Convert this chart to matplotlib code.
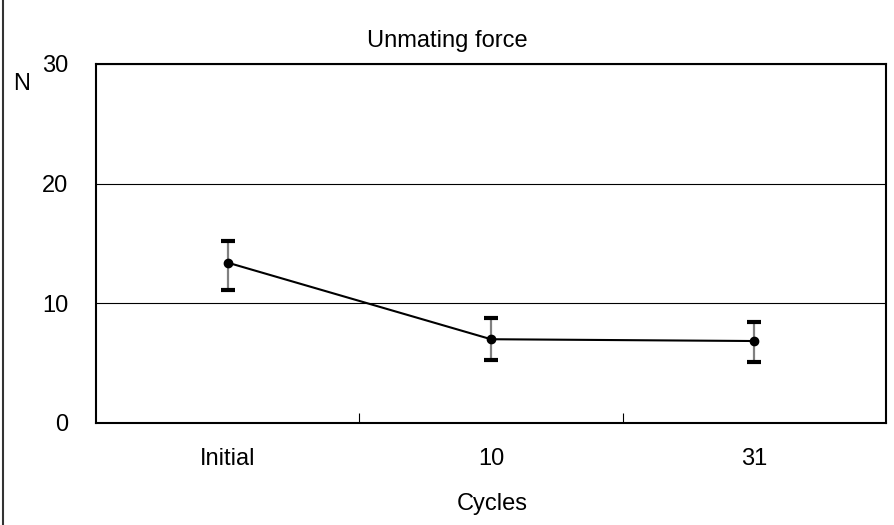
import matplotlib
matplotlib.use('Agg')
import matplotlib.pyplot as plt
from matplotlib.lines import Line2D

plt.rcParams['font.family'] = ['Liberation Sans', 'DejaVu Sans']

cycles = ['Initial', '10', '31']
force = [13.4, 7.0, 6.85]
err_low = [2.3, 1.75, 1.75]
err_high = [1.8, 1.8, 1.55]

FS = 17

fig = plt.figure(figsize=(8.94, 5.25), dpi=100)
ax = fig.add_axes([0.1074, 0.1943, 0.8837, 0.6838])

x = list(range(len(cycles)))
ax.errorbar(x, force, yerr=[err_low, err_high], fmt='none', ecolor='#808080',
            elinewidth=1.6, capsize=0, zorder=2)
# caps drawn separately so they stay black and thick
lo = [f - e for f, e in zip(force, err_low)]
hi = [f + e for f, e in zip(force, err_high)]
ax.scatter(x, lo, marker='_', s=110, color='black', linewidths=3, zorder=3)
ax.scatter(x, hi, marker='_', s=110, color='black', linewidths=3, zorder=3)
ax.plot(x, force, color='black', lw=1.5, marker='o', ms=6, zorder=4)

ax.set_xlim(-0.5, 2.5)
ax.set_ylim(0, 30)
ax.set_yticks([0, 10, 20, 30])
ax.set_xticks(x)
ax.set_xticklabels(cycles)
ax.set_xticks([0.5, 1.5], minor=True)
ax.tick_params(axis='x', which='major', length=0, pad=18, labelsize=FS)
ax.tick_params(axis='x', which='minor', length=7, direction='in', width=0.8)
ax.tick_params(axis='y', length=0, pad=20, labelsize=FS)
ax.grid(axis='y', color='black', lw=0.8)
ax.set_axisbelow(True)
for s in ax.spines.values():
    s.set_linewidth(1.5)
    s.set_color('black')

fig.text(0.551, 0.0286, 'Cycles', ha='center', va='baseline', fontsize=FS)
fig.text(0.5, 0.9105, 'Unmating force', ha='center', va='baseline', fontsize=FS)
fig.text(0.0145, 0.8286, 'N', ha='left', va='baseline', fontsize=FS)

fig.lines.append(Line2D([0.003, 0.003], [0, 1], transform=fig.transFigure,
                        color='#333333', lw=1.5))

fig.savefig('out.png', dpi=100)
